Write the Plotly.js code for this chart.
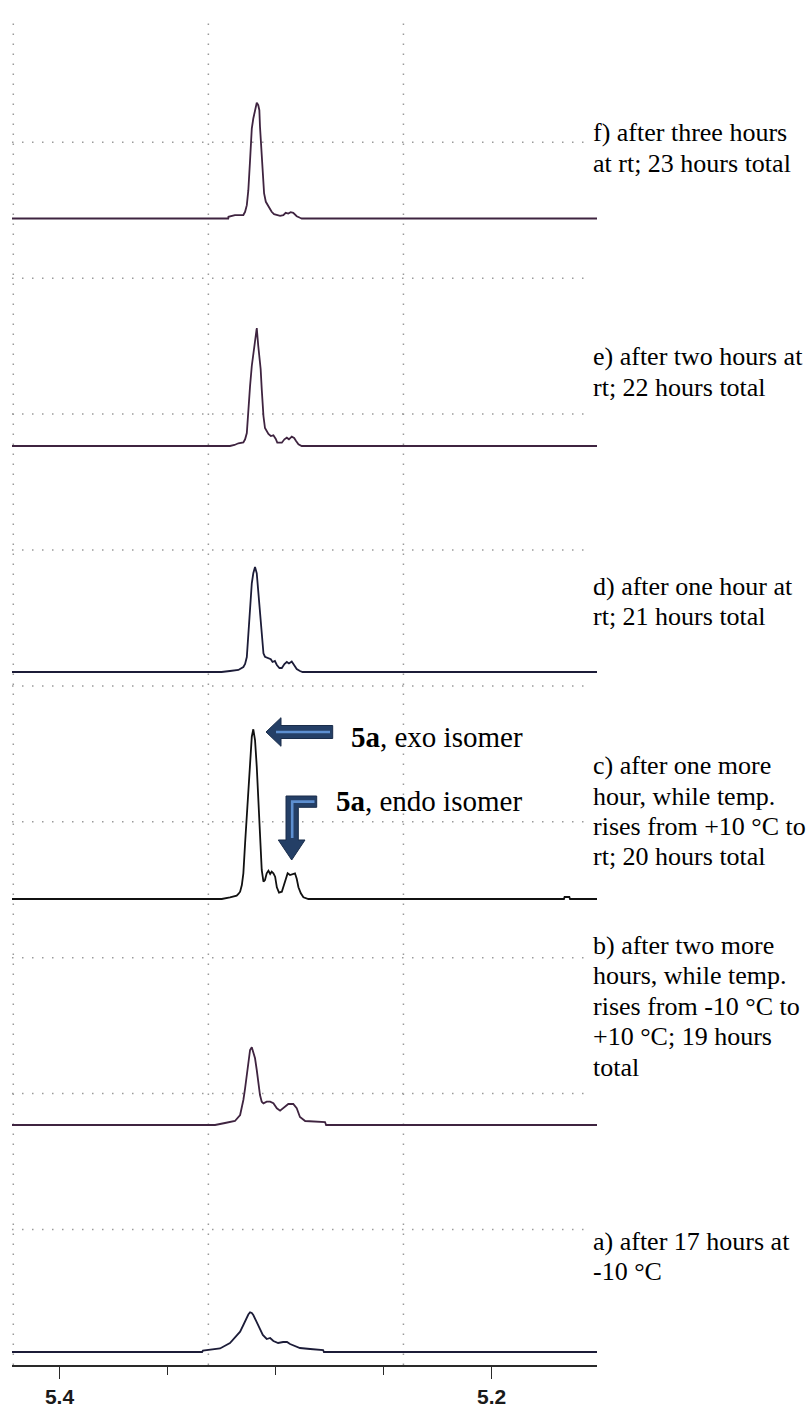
<!DOCTYPE html>
<html><head><meta charset="utf-8">
<script src="https://cdn.plot.ly/plotly-3.0.1.min.js"></script>
<style>html,body{margin:0;padding:0;background:#fff;}#chart{width:812px;height:1407px;}</style>
</head><body><div id="chart"></div>
<script>
// ---------- DATA (chemical shift in ppm, intensity in arbitrary units) ----------
const ppmF = [5.4220,5.3219,5.3218,5.3188,5.3149,5.3141,5.3133,5.3126,5.3118,5.3110,5.3103,5.3095,5.3087,5.3080,5.3075,5.3072,5.3067,5.3061,5.3053,5.3045,5.3036,5.3025,5.3018,5.3007,5.2994,5.2979,5.2964,5.2953,5.2941,5.2930,5.2918,5.2910,5.2902,5.2887,5.2879,5.1512];
const intF = [0,0,1.7,3.3,3.5,6.7,13.3,28.3,58.3,90,100,108.3,115.7,113.3,108.3,91.7,71.7,45,25,16.7,13.3,10,6.7,4.3,3.3,2.7,3.3,5.7,5,6.3,5.7,4,2.3,0.7,0,0];

const ppmE = [5.4220,5.3211,5.3190,5.3172,5.3149,5.3141,5.3133,5.3126,5.3118,5.3110,5.3103,5.3095,5.3087,5.3080,5.3075,5.3069,5.3064,5.3056,5.3049,5.3041,5.3033,5.3022,5.3010,5.2999,5.2992,5.2971,5.2959,5.2948,5.2938,5.2925,5.2914,5.2905,5.2894,5.2879,5.1512];
const intE = [0,0,1,2.7,3.5,6.7,13,38,60,80,92,100,118,100,90,77,57,30,18,15,12,10,10.7,7,3.3,3.3,6.7,8.3,6.7,9.3,8,5,1.7,0,0];

const ppmD = [5.4220,5.3250,5.3211,5.3172,5.3149,5.3141,5.3133,5.3126,5.3118,5.3110,5.3103,5.3095,5.3087,5.3080,5.3072,5.3064,5.3056,5.3049,5.3033,5.3022,5.3014,5.3003,5.2994,5.2982,5.2971,5.2959,5.2948,5.2938,5.2925,5.2914,5.2902,5.2887,5.2875,5.1512];
const intD = [0,0,1,2,5,8,15,35,65,88.7,98.7,105,98.7,78.7,55,32,18.7,15.3,13.7,12.7,10,11,7,4,4,8,10,8.5,10.5,7,3,1,0,0];

const ppmC = [5.4220,5.3249,5.3211,5.3180,5.3172,5.3164,5.3156,5.3149,5.3141,5.3133,5.3126,5.3118,5.3110,5.3103,5.3095,5.3087,5.3080,5.3072,5.3064,5.3056,5.3049,5.3041,5.3033,5.3025,5.3018,5.3010,5.3002,5.2994,5.2984,5.2971,5.2961,5.2951,5.2944,5.2933,5.2920,5.2910,5.2902,5.2894,5.2883,5.2871,5.2848,5.1665,5.1662,5.1640,5.1637,5.1512];
const intC = [0,0,1.7,3.3,5,7.3,14,25.7,55.7,85.7,112.3,142.3,162.3,169.7,159,132.3,102.3,65.7,29,17.3,19,25.7,28.3,25,27.3,25.7,22.3,11.7,6.3,7.3,14,22.3,25.7,24,25,25.7,20.3,11.7,5.7,1.7,0,0,2,2,0,0];

const ppmB = [5.4220,5.3280,5.3234,5.3188,5.3164,5.3156,5.3149,5.3141,5.3133,5.3126,5.3118,5.3110,5.3103,5.3095,5.3087,5.3080,5.3072,5.3064,5.3056,5.3041,5.3025,5.3010,5.2994,5.2979,5.2956,5.2941,5.2918,5.2902,5.2887,5.2863,5.2771,5.2766,5.1512];
const intB = [0,0,2,4,10,16.7,25,36.7,51.7,65,75,77.7,73.3,66.7,55,41.7,30,23.3,21.7,23.3,23.3,21.7,16.7,14.3,18.3,21,21,16.7,8,4,3,0,0];

const ppmA = [5.4220,5.3340,5.3336,5.3257,5.3211,5.3180,5.3164,5.3149,5.3133,5.3126,5.3118,5.3110,5.3103,5.3087,5.3072,5.3059,5.3041,5.3025,5.3010,5.2988,5.2965,5.2947,5.2933,5.2910,5.2887,5.2840,5.2780,5.2776,5.1512];
const intA = [0,0,1.5,3.5,9,17,20.3,27,35,37.5,39.7,39,37,30.3,23.7,17,13,14,11,9,10,10,8,6,4,3,2,0,0];

const tickValues = [5.4, 5.2];
const tickLabels = ['5.4', '5.2'];

const labelF = ['f) after three hours', 'at rt; 23 hours total'];
const labelE = ['e) after two hours at', 'rt; 22 hours total'];
const labelD = ['d) after one hour at', 'rt; 21 hours total'];
const labelC = ['c) after one more', 'hour, while temp.', 'rises from +10 °C to', 'rt; 20 hours total'];
const labelB = ['b) after two more', 'hours, while temp.', 'rises from -10 °C to', '+10 °C; 19 hours', 'total'];
const labelA = ['a) after 17 hours at', '-10 °C'];
const exoLabel = '<b>5a</b>, exo isomer';
const endoLabel = '<b>5a</b>, endo isomer';

// ---------- LAYOUT / STYLE ----------
const W = 812, H = 1407, ML = 12, MR = 215, MT = 15, MB = 42;
const PW = W - ML - MR, PH = H - MT - MB, YB = H - MB;
const xRange = [5.4220, 5.1512];
const gridX = [5.4214, 5.3311, 5.2408];
const gridY0 = YB - 1229.5, gridDY = 135.9, gridCount = 9, gridRightPx = 590;
const dotDash = '1.5px,8.5px', dotColor = '#9a9a9a';

const panels = [
  {x: ppmF, y: intF, base: 218.5, color: '#3f2440', label: labelF, ly: 132.5},
  {x: ppmE, y: intE, base: 446,   color: '#3f2440', label: labelE, ly: 357},
  {x: ppmD, y: intD, base: 672,   color: '#1c1c38', label: labelD, ly: 586},
  {x: ppmC, y: intC, base: 899,   color: '#111111', label: labelC, ly: 765.5},
  {x: ppmB, y: intB, base: 1125,  color: '#3f2440', label: labelB, ly: 945},
  {x: ppmA, y: intA, base: 1352,  color: '#1c1c38', label: labelA, ly: 1241}
];
const lineStep = 30.5;

const px = X => (X - ML) / PW;
const py = Y => (YB - Y) / PH;

// empty trace so that the base x/y subplot exists
const traces = [{type: 'scatter', mode: 'lines', x: [], y: [], xaxis: 'x', yaxis: 'y', hoverinfo: 'skip'}];
const layout = {
  width: W, height: H,
  margin: {l: ML, r: MR, t: MT, b: MB, pad: 0},
  paper_bgcolor: '#fff', plot_bgcolor: 'rgba(0,0,0,0)',
  showlegend: false,
  xaxis: {
    range: xRange, autorange: false, fixedrange: true,
    showgrid: false, zeroline: false,
    showline: true, linecolor: '#2a2a2a', linewidth: 1.6,
    ticks: 'outside', ticklen: 12, tickwidth: 1.6, tickcolor: '#2a2a2a',
    tickmode: 'array', tickvals: tickValues, ticktext: tickLabels,
    tickfont: {family: 'Liberation Sans, Arial, sans-serif', size: 21, color: '#1a1a1a', weight: 'bold'},
    ticklabelstandoff: 0,
    minor: {tick0: 5.2, dtick: 0.05, ticks: 'outside', ticklen: 8, tickwidth: 1.6, tickcolor: '#2a2a2a', showgrid: false}
  },
  yaxis: {
    range: [0, PH], autorange: false, fixedrange: true,
    showgrid: false, showticklabels: false, ticks: '', zeroline: false, showline: false
  },
  shapes: [],
  annotations: []
};

panels.forEach((p, i) => {
  const ax = 'yaxis' + (i + 2);
  layout[ax] = {
    overlaying: 'y', anchor: 'x', visible: false, fixedrange: true, showgrid: false,
    range: [p.base - YB, p.base - MT], autorange: false
  };
  traces.push({
    type: 'scatter', mode: 'lines', x: p.x, y: p.y,
    xaxis: 'x', yaxis: 'y' + (i + 2),
    line: {color: p.color, width: 1.8},
    hoverinfo: 'skip'
  });
  p.label.forEach((t, k) => {
    layout.annotations.push({
      xref: 'paper', yref: 'paper', x: px(591), y: py(p.ly + k * lineStep),
      xanchor: 'left', yanchor: 'middle', showarrow: false, text: t,
      font: {family: 'Liberation Serif, Times New Roman, serif', size: 26, color: '#000'}
    });
  });
});

// dotted grid
gridX.forEach(g => layout.shapes.push({
  type: 'line', xref: 'x', yref: 'paper', x0: g, x1: g, y0: 0, y1: 1, layer: 'below',
  line: {color: dotColor, width: 1.5, dash: dotDash}
}));
for (let k = 0; k < gridCount; k++) {
  const gy = gridY0 + k * gridDY;
  layout.shapes.push({
    type: 'line', xref: 'paper', yref: 'y', x0: 0, x1: px(gridRightPx), y0: gy, y1: gy, layer: 'below',
    line: {color: dotColor, width: 1.5, dash: dotDash}
  });
}

// block arrows (pixel outlines -> paper)
function pathOf(pts) {
  return pts.map((q, j) => (j ? 'L' : 'M') + px(q[0]).toFixed(5) + ',' + py(q[1]).toFixed(5)).join(' ') + ' Z';
}
function lineOf(pts) {
  return pts.map((q, j) => (j ? 'L' : 'M') + px(q[0]).toFixed(5) + ',' + py(q[1]).toFixed(5)).join(' ');
}
const exoArrow = [[266,732],[281,717.7],[281,725.5],[332.7,725.5],[332.7,738.5],[281,738.5],[281,746.3]];
const exoStripe = [[276,732],[330,732]];
const endoArrow = [[286,796],[316.7,796],[316.7,807.3],[298.3,807.3],[298.3,840],[305,840],[291.7,860],[278.3,840],[286,840]];
const endoStripe = [[292.2,838],[292.2,801.6],[314.5,801.6]];
[exoArrow, endoArrow].forEach(a => layout.shapes.push({
  type: 'path', xref: 'paper', yref: 'paper', path: pathOf(a),
  fillcolor: '#243f66', line: {color: '#1a2d4a', width: 1}
}));
[exoStripe, endoStripe].forEach(a => layout.shapes.push({
  type: 'path', xref: 'paper', yref: 'paper', path: lineOf(a),
  line: {color: '#5d8fd0', width: 2.6}
}));

layout.annotations.push({
  xref: 'paper', yref: 'paper', x: px(349), y: py(736.7), xanchor: 'left', yanchor: 'middle',
  showarrow: false, text: exoLabel,
  font: {family: 'Liberation Serif, Times New Roman, serif', size: 29, color: '#000'}
});
layout.annotations.push({
  xref: 'paper', yref: 'paper', x: px(334), y: py(800.8), xanchor: 'left', yanchor: 'middle',
  showarrow: false, text: endoLabel,
  font: {family: 'Liberation Serif, Times New Roman, serif', size: 29, color: '#000'}
});

Plotly.newPlot('chart', traces, layout, {staticPlot: true, displayModeBar: false});
</script>
</body></html>
